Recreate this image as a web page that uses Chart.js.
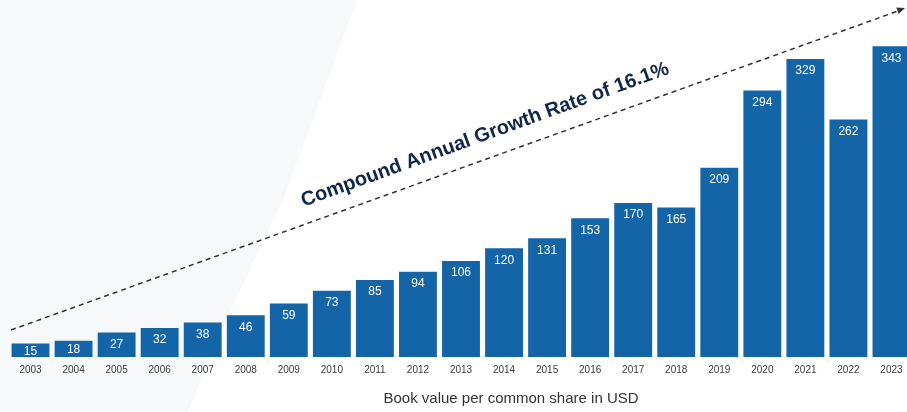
<!DOCTYPE html>
<html>
<head>
<meta charset="utf-8">
<script src="https://cdn.jsdelivr.net/npm/chart.js@4.4.1/dist/chart.umd.min.js"></script>
<style>
  html, body { margin: 0; padding: 0; overflow: hidden; background: #fff; }
  #wrap { width: 913px; height: 412px; }
</style>
</head>
<body>
<div id="wrap"><canvas id="myChart"></canvas></div>
<script>
// data
var years = ['2003','2004','2005','2006','2007','2008','2009','2010','2011','2012','2013',
             '2014','2015','2016','2017','2018','2019','2020','2021','2022','2023'];
var bookValue = [15, 18, 27, 32, 38, 46, 59, 73, 85, 94, 106, 120, 131, 153, 170, 165, 209, 294, 329, 262, 343];
var cagrText = 'Compound Annual Growth Rate of 16.1%';
var axisTitle = 'Book value per common share in USD';

// gray shape in the background + dashed arrow + texts
var decoPlugin = {
    id: 'deco',
    beforeDraw: function (chart) {
        var c = chart.ctx;
        c.save();
        c.fillStyle = '#f7f8f9';
        c.beginPath();
        c.moveTo(0, 0);
        c.lineTo(357, 0);
        c.lineTo(283, 200);
        c.lineTo(235, 300);
        c.lineTo(188, 412);
        c.lineTo(0, 412);
        c.closePath();
        c.fill();

        // dashed trend arrow
        c.strokeStyle = '#333';
        c.lineWidth = 1.5;
        c.setLineDash([5, 4]);
        c.beginPath();
        c.moveTo(11, 330);
        c.lineTo(898, 11);
        c.stroke();
        c.setLineDash([]);
        c.fillStyle = '#333';
        c.translate(905, 8);
        c.rotate(-Math.atan2(319, 887));
        c.beginPath();
        c.moveTo(0, 0);
        c.lineTo(-8, -3.5);
        c.lineTo(-8, 3.5);
        c.closePath();
        c.fill();
        c.restore();

        c.save();
        c.translate(487, 140);
        c.rotate(-20 * Math.PI / 180);
        c.fillStyle = '#10264a';
        c.font = 'bold 20px "Liberation Sans", Arial, sans-serif';
        c.textAlign = 'center';
        c.textBaseline = 'alphabetic';
        c.fillText(cagrText, 0, 0);
        c.restore();
    },
    afterDraw: function (chart) {
        var c = chart.ctx;
        var meta = chart.getDatasetMeta(0);
        c.save();
        c.fillStyle = '#ffffff';
        c.font = '12px "Liberation Sans", Arial, sans-serif';
        c.textAlign = 'center';
        c.textBaseline = 'middle';
        meta.data.forEach(function (bar, i) {
            var mid = (bar.y + bar.base) / 2 + 1;
            var y = Math.min(bar.y + 12, mid);
            c.fillText(bookValue[i], bar.x, y);
        });
        c.fillStyle = '#333';
        c.font = '15px "Liberation Sans", Arial, sans-serif';
        c.fillText(axisTitle, 511, 399);
        c.restore();
    }
};

var ctx = document.getElementById('myChart').getContext('2d');
var chart = new Chart(ctx, {
    type: 'bar',
    data: {
        labels: years,
        datasets: [{
            label: 'Book value',
            data: bookValue,
            backgroundColor: '#1464a8',
            categoryPercentage: 0.88,
            barPercentage: 1.0
        }]
    },
    options: {
        responsive: true,
        maintainAspectRatio: false,
        animation: false,
        layout: { padding: { left: 9, right: 0, top: 0, bottom: 37 } },
        plugins: {
            legend: { display: false },
            tooltip: { enabled: false }
        },
        scales: {
            x: {
                grid: { display: false },
                border: { display: false },
                ticks: {
                    color: '#3a3a3a',
                    font: { size: 10, family: '"Liberation Sans", Arial, sans-serif' },
                    padding: -1,
                    maxRotation: 0
                }
            },
            y: {
                display: false,
                min: 0,
                max: 394
            }
        }
    },
    plugins: [decoPlugin]
});
</script>
</body>
</html>
